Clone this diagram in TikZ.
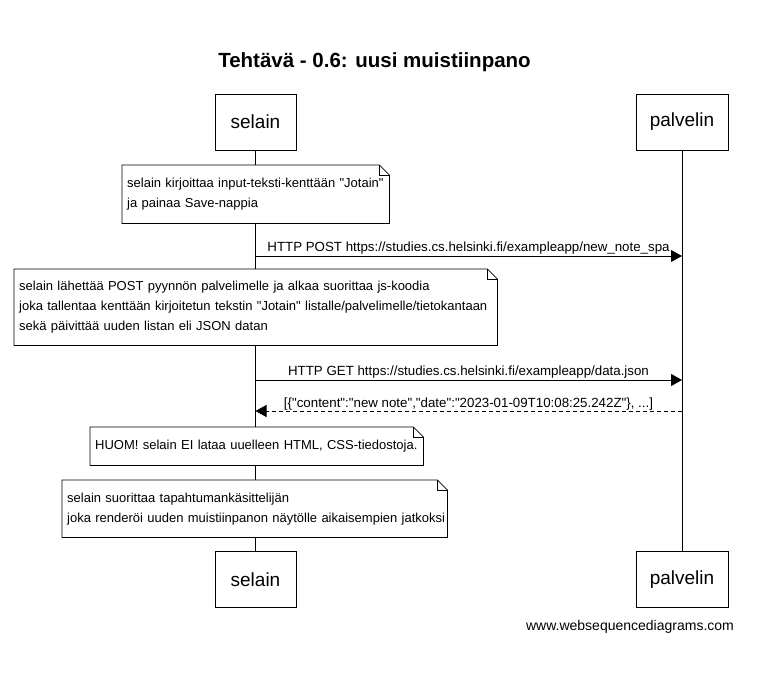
\documentclass[tikz,border=0pt]{standalone}
\usepackage{fontspec}
\setmainfont{Liberation Sans}[Ligatures=TeXOff]
\usetikzlibrary{arrows.meta}
\begin{document}
\begin{tikzpicture}[x=1pt,y=-1pt,
  actor/.style={draw,fill=white,line width=0.8pt,minimum height=56pt,inner sep=0pt,font=\fontsize{19}{21}\selectfont},
  notebox/.style={anchor=north west,fill=white,inner xsep=5pt,inner ysep=0pt,align=left,font=\fontsize{13}{20}\selectfont},
  msg/.style={line width=0.8pt,-{Triangle[length=11pt,width=12pt]}},
  ret/.style={msg,dash pattern=on 4pt off 3pt},
  mlabel/.style={font=\fontsize{13.3}{15}\selectfont,anchor=base},
  lifeline/.style={line width=0.8pt}]
\useasboundingbox (0,0) rectangle (760,690);
\fill[white] (0,0) rectangle (760,690);
\node[font=\bfseries\fontsize{20.5}{24}\selectfont] (title) at (374.5,62) {Tehtävä - 0.6: uusi muistiinpano};
% actors
\node[actor,minimum width=81pt] (sT) at (255.5,122) {selain};
\node[actor,minimum width=92pt] (pT) at (682,122) {palvelin};
\node[actor,minimum width=81pt] (sB) at (255.5,579.5) {selain};
\node[actor,minimum width=92pt] (pB) at (682,579.5) {palvelin};
\draw[lifeline] (sT.south) -- (sB.north);
\draw[lifeline] (pT.south) -- (pB.north);
% note drawing macro
\newcommand{\notefold}[1]{%
  \draw[line width=0.8pt] (#1.north west) -- ([xshift=-10pt]#1.north east) -- ([yshift=-10pt]#1.north east) -- (#1.south east) -- (#1.south west) -- cycle;
  \draw[line width=0.6pt] ([xshift=-10pt]#1.north east) -- ([xshift=-10pt,yshift=-10pt]#1.north east) -- ([yshift=-10pt]#1.north east);}
% note 1
\node[notebox,text width=257pt,minimum height=58pt] (n1) at (122,165) {\mbox{selain kirjoittaa input-teksti-kenttään "Jotain"}\\\mbox{ja painaa Save-nappia}};
\notefold{n1}
% message 1
\coordinate (s1) at (sT |- 0,256);
\coordinate (p1) at (pT |- 0,256);
\draw[msg] (s1) -- (p1);
\node[mlabel] (l1) at (468.5,251) {HTTP POST https://studies.cs.helsinki.fi/exampleapp/new\_note\_spa};
% note 2
\node[notebox,text width=473pt,minimum height=76pt] (n2) at (14,269) {\mbox{selain lähettää POST pyynnön palvelimelle ja alkaa suorittaa js-koodia}\\\mbox{joka tallentaa kenttään kirjoitetun tekstin "Jotain" listalle/palvelimelle/tietokantaan}\\\mbox{sekä päivittää uuden listan eli JSON datan}};
\notefold{n2}
% message 2
\coordinate (s2) at (sT |- 0,380);
\coordinate (p2) at (pT |- 0,380);
\draw[msg] (s2) -- (p2);
\node[mlabel] (l2) at (468.5,375.5) {HTTP GET https://studies.cs.helsinki.fi/exampleapp/data.json};
% message 3 (return)
\coordinate (s3) at (sT |- 0,411);
\coordinate (p3) at (pT |- 0,411);
\draw[ret] (p3) -- (s3);
\node[mlabel] (l3) at (468.5,407.5) {[\{"content":"new note","date":"2023-01-09T10:08:25.242Z"\}, ...]};
% note 3
\node[notebox,text width=323pt,minimum height=38pt] (n3) at (90,427) {\mbox{HUOM! selain EI lataa uuelleen HTML, CSS-tiedostoja.}};
\notefold{n3}
% note 4
\node[notebox,text width=375pt,minimum height=57pt] (n4) at (62,480) {\mbox{selain suorittaa tapahtumankäsittelijän}\\\mbox{joka renderöi uuden muistiinpanon näytölle aikaisempien jatkoksi}};
\notefold{n4}
\node[font=\fontsize{14}{16}\selectfont] (wm) at (630,627) {www.websequencediagrams.com};
\end{tikzpicture}
\end{document}
